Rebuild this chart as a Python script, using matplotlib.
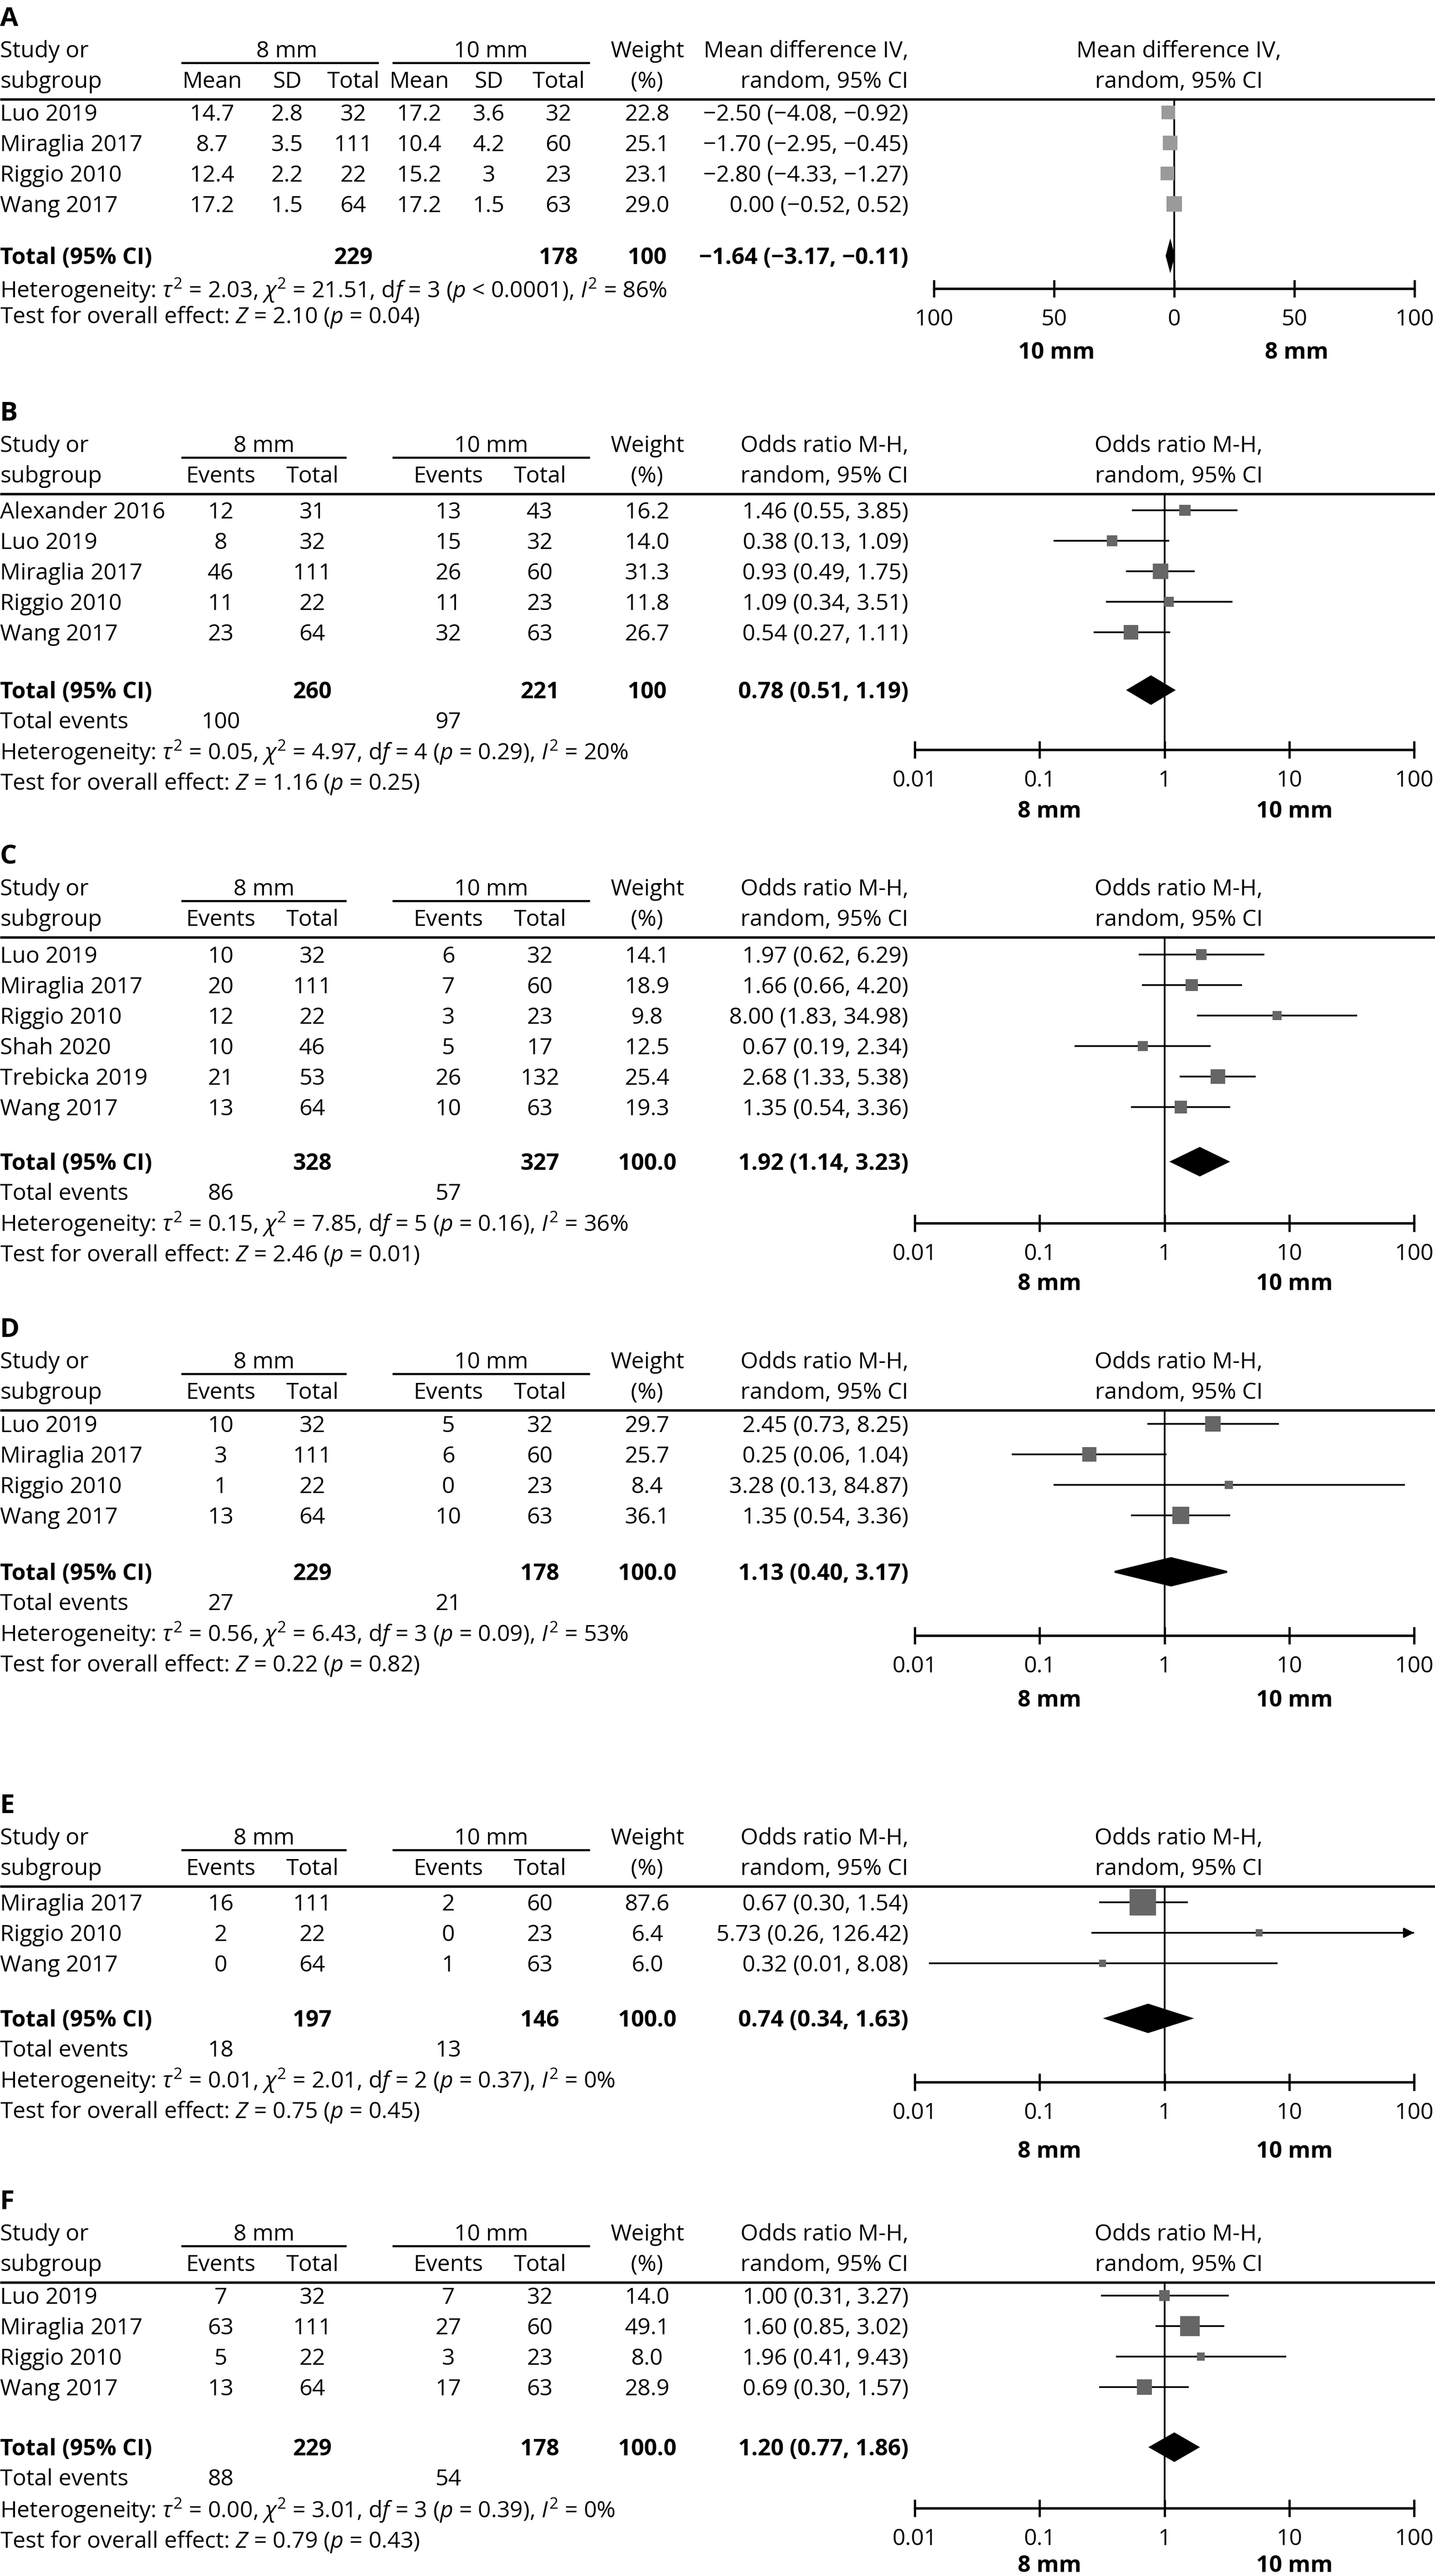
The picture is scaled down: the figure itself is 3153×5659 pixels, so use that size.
import numpy as np
import matplotlib
matplotlib.use("Agg")
from matplotlib import pyplot as plt
from matplotlib import transforms
from matplotlib.patches import Polygon

plt.rcParams['font.family'] = ['Open Sans', 'DejaVu Sans']
plt.rcParams['mathtext.fontset'] = 'custom'
plt.rcParams['mathtext.rm'] = 'Open Sans'
plt.rcParams['mathtext.it'] = 'Open Sans:italic'
plt.rcParams['mathtext.bf'] = 'Open Sans:bold'

# ---- data -----------------------------------------------------------------
# A : mean difference
a_study = ['Luo 2019', 'Miraglia 2017', 'Riggio 2010', 'Wang 2017']
a_mean8 = [14.7, 8.7, 12.4, 17.2]
a_sd8 = [2.8, 3.5, 2.2, 1.5]
a_n8 = [32, 111, 22, 64]
a_mean10 = [17.2, 10.4, 15.2, 17.2]
a_sd10 = [3.6, 4.2, 3, 1.5]
a_n10 = [32, 60, 23, 63]
a_weight = [22.8, 25.1, 23.1, 29.0]
a_est = [-2.50, -1.70, -2.80, 0.00]
a_lo = [-4.08, -2.95, -4.33, -0.52]
a_hi = [-0.92, -0.45, -1.27, 0.52]
a_total = [229, 178, '100', -1.64, -3.17, -0.11]
a_het = ['2.03', '21.51', '3', '< 0.0001', '86']
a_z = ['2.10', '= 0.04']

# B
b_study = ['Alexander 2016', 'Luo 2019', 'Miraglia 2017', 'Riggio 2010', 'Wang 2017']
b_ev8 = [12, 8, 46, 11, 23]
b_n8 = [31, 32, 111, 22, 64]
b_ev10 = [13, 15, 26, 11, 32]
b_n10 = [43, 32, 60, 23, 63]
b_weight = [16.2, 14.0, 31.3, 11.8, 26.7]
b_est = [1.46, 0.38, 0.93, 1.09, 0.54]
b_lo = [0.55, 0.13, 0.49, 0.34, 0.27]
b_hi = [3.85, 1.09, 1.75, 3.51, 1.11]
b_total = [260, 221, '100', 0.78, 0.51, 1.19]
b_events = [100, 97]
b_het = ['0.05', '4.97', '4', '= 0.29', '20']
b_z = ['1.16', '= 0.25']

# C
c_study = ['Luo 2019', 'Miraglia 2017', 'Riggio 2010', 'Shah 2020', 'Trebicka 2019', 'Wang 2017']
c_ev8 = [10, 20, 12, 10, 21, 13]
c_n8 = [32, 111, 22, 46, 53, 64]
c_ev10 = [6, 7, 3, 5, 26, 10]
c_n10 = [32, 60, 23, 17, 132, 63]
c_weight = [14.1, 18.9, 9.8, 12.5, 25.4, 19.3]
c_est = [1.97, 1.66, 8.00, 0.67, 2.68, 1.35]
c_lo = [0.62, 0.66, 1.83, 0.19, 1.33, 0.54]
c_hi = [6.29, 4.20, 34.98, 2.34, 5.38, 3.36]
c_total = [328, 327, '100.0', 1.92, 1.14, 3.23]
c_events = [86, 57]
c_het = ['0.15', '7.85', '5', '= 0.16', '36']
c_z = ['2.46', '= 0.01']

# D
d_study = ['Luo 2019', 'Miraglia 2017', 'Riggio 2010', 'Wang 2017']
d_ev8 = [10, 3, 1, 13]
d_n8 = [32, 111, 22, 64]
d_ev10 = [5, 6, 0, 10]
d_n10 = [32, 60, 23, 63]
d_weight = [29.7, 25.7, 8.4, 36.1]
d_est = [2.45, 0.25, 3.28, 1.35]
d_lo = [0.73, 0.06, 0.13, 0.54]
d_hi = [8.25, 1.04, 84.87, 3.36]
d_total = [229, 178, '100.0', 1.13, 0.40, 3.17]
d_events = [27, 21]
d_het = ['0.56', '6.43', '3', '= 0.09', '53']
d_z = ['0.22', '= 0.82']

# E
e_study = ['Miraglia 2017', 'Riggio 2010', 'Wang 2017']
e_ev8 = [16, 2, 0]
e_n8 = [111, 22, 64]
e_ev10 = [2, 0, 1]
e_n10 = [60, 23, 63]
e_weight = [87.6, 6.4, 6.0]
e_est = [0.67, 5.73, 0.32]
e_lo = [0.30, 0.26, 0.013]
e_hi = [1.54, 126.42, 8.08]
e_total = [197, 146, '100.0', 0.74, 0.34, 1.63]
e_events = [18, 13]
e_het = ['0.01', '2.01', '2', '= 0.37', '0']
e_z = ['0.75', '= 0.45']

# F
f_study = ['Luo 2019', 'Miraglia 2017', 'Riggio 2010', 'Wang 2017']
f_ev8 = [7, 63, 5, 13]
f_n8 = [32, 111, 22, 64]
f_ev10 = [7, 27, 3, 17]
f_n10 = [32, 60, 23, 63]
f_weight = [14.0, 49.1, 8.0, 28.9]
f_est = [1.00, 1.60, 1.96, 0.69]
f_lo = [0.31, 0.85, 0.41, 0.30]
f_hi = [3.27, 3.02, 9.43, 1.57]
f_total = [229, 178, '100.0', 1.20, 0.77, 1.86]
f_events = [88, 54]
f_het = ['0.00', '3.01', '3', '= 0.39', '0']
f_z = ['0.79', '= 0.43']

def g(v):
    return '%g' % v

panels = [
    dict(letter='A', kind='md', study=a_study,
         cells=[[g(v) for v in a_mean8], [g(v) for v in a_sd8], a_n8,
                [g(v) for v in a_mean10], [g(v) for v in a_sd10], a_n10],
         weight=a_weight, est=a_est, lo=a_lo, hi=a_hi, total=a_total,
         events=None, het=a_het, z=a_z),
    dict(letter='B', kind='or', study=b_study, cells=[b_ev8, b_n8, b_ev10, b_n10],
         weight=b_weight, est=b_est, lo=b_lo, hi=b_hi, total=b_total,
         events=b_events, het=b_het, z=b_z),
    dict(letter='C', kind='or', study=c_study, cells=[c_ev8, c_n8, c_ev10, c_n10],
         weight=c_weight, est=c_est, lo=c_lo, hi=c_hi, total=c_total,
         events=c_events, het=c_het, z=c_z),
    dict(letter='D', kind='or', study=d_study, cells=[d_ev8, d_n8, d_ev10, d_n10],
         weight=d_weight, est=d_est, lo=d_lo, hi=d_hi, total=d_total,
         events=d_events, het=d_het, z=d_z),
    dict(letter='E', kind='or', study=e_study, cells=[e_ev8, e_n8, e_ev10, e_n10],
         weight=e_weight, est=e_est, lo=e_lo, hi=e_hi, total=e_total,
         events=e_events, het=e_het, z=e_z),
    dict(letter='F', kind='or', study=f_study, cells=[f_ev8, f_n8, f_ev10, f_n10],
         weight=f_weight, est=f_est, lo=f_lo, hi=f_hi, total=f_total,
         events=f_events, het=f_het, z=f_z),
]

# ---- layout (pixels) --------------------------------------------------------
W, H = 3153, 5659
DPI = 300
FS = 12
STEP = 67
hdr_y = [218, 1085, 2059, 3098, 4144, 5014]
row0_y = [247, 1121, 2097, 3128, 4179, 5043]
total_y = [562, 1516, 2552, 3453, 4434, 5376]
het_y = [636, 1651, 2687, 3588, 4569, 5513]
axis_y = [634, 1647, 2687, 3593, 4574, 5510]
sub_y = [770, 1778, 2816, 3731, 4722, 5632]

fig = plt.figure(figsize=(W / DPI, H / DPI), dpi=DPI)
bg = fig.add_axes([0, 0, 1, 1])
bg.set_xlim(0, W)
bg.set_ylim(H, 0)
bg.axis('off')


def txt(x, y, s, ha='left', bold=False, size=FS):
    bg.text(x, y + 18, s, ha=ha, va='baseline', fontsize=size,
            fontweight='bold' if bold else 'normal')


def ci(e, l, h):
    return ('%.2f (%.2f, %.2f)' % (e, l, h)).replace('-', '\u2212')


for k, p in enumerate(panels):
    hy = hdr_y[k]
    r0 = row0_y[k]
    md = p['kind'] == 'md'
    if md:
        cols = [466, 631, 776, 921, 1074, 1227]
        subs = ['Mean', 'SD', 'Total', 'Mean', 'SD', 'Total']
        grp = [(630, 398, 832), (1078, 862, 1296)]
        tot_cols = [2, 5]
        title = 'Mean difference IV,'
    else:
        cols = [485, 686, 985, 1186]
        subs = ['Events', 'Total', 'Events', 'Total']
        grp = [(580, 398, 761), (1079, 862, 1296)]
        tot_cols = [1, 3]
        title = 'Odds ratio M-H,'

    # header
    bg.text(0, hy - 182 + 21, p['letter'], fontsize=14, fontweight='bold', va='baseline')
    txt(0, hy - 110, 'Study or')
    txt(0, hy - 43, 'subgroup')
    for (cx, x0, x1), lab in zip(grp, ['8 mm', '10 mm']):
        txt(cx, hy - 110, lab, ha='center')
        bg.plot([x0, x1], [hy - 80, hy - 80], color='k', lw=1.1, solid_capstyle='butt')
    for cx, lab in zip(cols, subs):
        txt(cx, hy - 43, lab, ha='center')
    txt(1422, hy - 110, 'Weight', ha='center')
    txt(1422, hy - 43, '(%)', ha='center')
    txt(1996, hy - 110, title, ha='right')
    txt(1996, hy - 43, 'random, 95% CI', ha='right')
    txt(2590, hy - 110, title, ha='center')
    txt(2590, hy - 43, 'random, 95% CI', ha='center')
    bg.plot([0, W], [hy, hy], color='k', lw=1.3, solid_capstyle='butt')

    # study rows
    n = len(p['study'])
    for i in range(n):
        y = r0 + STEP * i
        txt(0, y, p['study'][i])
        for cx, col in zip(cols, p['cells']):
            txt(cx, y, str(col[i]), ha='center')
        txt(1422, y, '%.1f' % p['weight'][i], ha='center')
        txt(1996, y, ci(p['est'][i], p['lo'][i], p['hi'][i]), ha='right')

    # totals
    ty = total_y[k]
    t = p['total']
    txt(0, ty, 'Total (95% CI)', bold=True)
    txt(cols[tot_cols[0]], ty, str(t[0]), ha='center', bold=True)
    txt(cols[tot_cols[1]], ty, str(t[1]), ha='center', bold=True)
    txt(1422, ty, t[2], ha='center', bold=True)
    txt(1996, ty, ci(t[3], t[4], t[5]), ha='right', bold=True)
    if p['events'] is not None:
        txt(0, ty + 66, 'Total events')
        txt(cols[0], ty + 66, str(p['events'][0]), ha='center')
        txt(cols[2], ty + 66, str(p['events'][1]), ha='center')
    h = p['het']
    hy2 = het_y[k]
    txt(0, hy2, 'Heterogeneity: $\\tau^2$ = %s, $\\chi^2$ = %s, d$f$ = %s ($p$ %s), $I^2$ = %s%%'
        % (h[0], h[1], h[2], h[3], h[4]))
    txt(0, hy2 + (56 if md else 66), 'Test for overall effect: $Z$ = %s ($p$ %s)' % (p['z'][0], p['z'][1]))

    # forest plot
    ay = axis_y[k]
    if md:
        x0, x1 = 2052, 3108
    else:
        x0, x1 = 2010, 3107
    ax = fig.add_axes([x0 / W, 1 - ay / H, (x1 - x0) / W, (ay - hy) / H])
    ax.patch.set_alpha(0)
    ax.set_ylim((ay - r0) / STEP, (hy - r0) / STEP)
    if md:
        ax.set_xlim(-100, 100)
        ax.set_xticks([-100, -50, 0, 50, 100])
        ax.set_xticklabels(['100', '50', '0', '50', '100'])
        null, xmax = 0, 100
        sq_color = '#9a9a9a'
        sub_pos = [(-49, '10 mm'), (51, '8 mm')]
    else:
        ax.set_xscale('log')
        ax.set_xlim(0.01, 100)
        ax.set_xticks([0.01, 0.1, 1, 10, 100])
        ax.set_xticklabels(['0.01', '0.1', '1', '10', '100'])
        ax.minorticks_off()
        null, xmax = 1, 100
        sq_color = '#666666'
        sub_pos = [(0.12, '8 mm'), (11, '10 mm')]
    ax.set_yticks([])
    for s in ['left', 'right', 'top']:
        ax.spines[s].set_visible(False)
    ax.spines['bottom'].set_linewidth(1.3)
    ax.tick_params(axis='x', direction='inout', length=9, width=1.2, pad=6, labelsize=FS)
    ax.axvline(null, color='k', lw=0.9, zorder=1)

    rows = np.arange(n)
    est = np.array(p['est'])
    lo = np.array(p['lo'])
    hi = np.array(p['hi'])
    hi_c = np.minimum(hi, xmax)
    ax.hlines(rows, lo, hi_c, color='k', lw=0.9, zorder=2)
    for i in rows:
        if hi[i] > xmax:
            ax.annotate('', xy=(xmax, i), xytext=(est[i], i),
                        arrowprops=dict(arrowstyle='-|>', color='k', lw=0.9,
                                        mutation_scale=11, shrinkA=0, shrinkB=0),
                        annotation_clip=False)
    side = 6.2 * np.sqrt(np.array(p['weight'])) * 72 / DPI
    ax.scatter(est, rows, marker='s', s=side ** 2, color=sq_color, linewidths=0,
               zorder=3, clip_on=False)
    tpos = (ty - r0) / STEP
    dia = Polygon([(t[4], tpos), (t[3], tpos - 0.45), (t[5], tpos), (t[3], tpos + 0.45)],
                  closed=True, color='k', zorder=4)
    ax.add_patch(dia)

    tr = transforms.blended_transform_factory(ax.transData, bg.transData)
    for xv, lab in sub_pos:
        ax.text(xv, sub_y[k] + 18, lab, transform=tr, ha='center', va='baseline',
                fontsize=FS, fontweight='bold')

fig.savefig('out.png', dpi=DPI)
